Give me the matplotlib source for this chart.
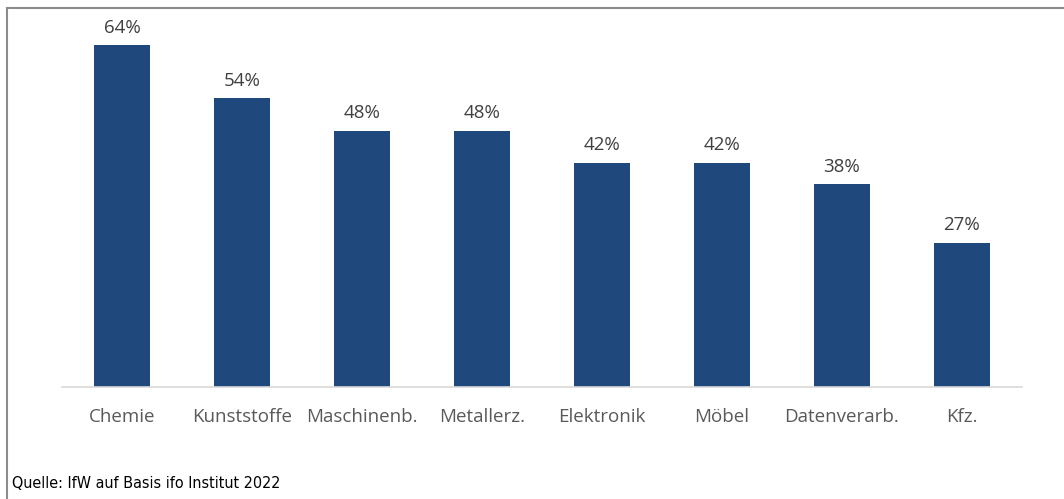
import matplotlib.pyplot as plt
from matplotlib.lines import Line2D

# --- data ---
branchen = ["Chemie", "Kunststoffe", "Maschinenb.", "Metallerz.",
            "Elektronik", "Möbel", "Datenverarb.", "Kfz."]
anteile = [64, 54, 48, 48, 42, 42, 38, 27]
quelle = "Quelle: IfW auf Basis ifo Institut 2022"

W, H = 1064, 499
fig = plt.figure(figsize=(W / 100, H / 100), dpi=100)

# axes placed in pixel terms: baseline at y=387, 960 px wide from x=62
ax = fig.add_axes([62 / W, (H - 387) / H, 960 / W, (387 - 13) / H])
bars = ax.bar(range(len(branchen)), anteile, width=0.46, color="#1f497d")
ax.set_xlim(-0.5, len(branchen) - 0.5)
ax.set_ylim(0, 70)

for b, v in zip(bars, anteile):
    ax.annotate(f"{v}%", (b.get_x() + b.get_width() / 2, v),
                xytext=(0, 6), textcoords="offset points",
                ha="center", va="bottom", fontsize=13.5,
                family="Open Sans", color="#404040")

ax.set_xticks(range(len(branchen)))
ax.set_xticklabels(branchen, fontsize=13.5, family="Open Sans", color="#595959")
ax.tick_params(axis="x", length=0, pad=15)
ax.set_yticks([])
for s in ["top", "right", "left"]:
    ax.spines[s].set_visible(False)
ax.spines["bottom"].set_color("#d9d9d9")
ax.spines["bottom"].set_linewidth(1.2)

# frame: left and top border lines
fig.add_artist(Line2D([7 / W, 7 / W], [0, (H - 8) / H], color="#8c8c8c", lw=1.5))
fig.add_artist(Line2D([7 / W, 1], [(H - 8) / H, (H - 8) / H], color="#8c8c8c", lw=1.5))

fig.text(12 / W, (H - 483) / H, quelle, fontsize=11.5, family="DejaVu Sans",
         stretch="condensed", color="black", va="center", ha="left")

fig.savefig("out.png", dpi=100)
